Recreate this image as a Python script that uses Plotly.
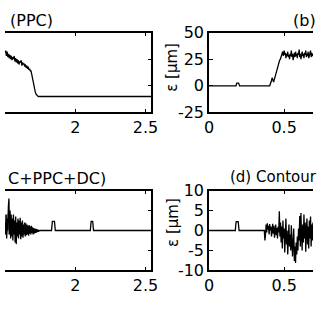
import numpy as np
import plotly.graph_objects as go

# ---------------- data ----------------
# Panel (a) "(PPC)", left panel, x visible ~1.5 .. 2.54
a_noise_x0, a_noise_dx = 1.500, 0.005
a_noise_y = [31, 33, 28, 32, 27, 30, 26, 29, 25, 28, 24, 27, 25, 28, 23, 26, 22, 25,
             21, 24, 20, 23, 22, 24, 19, 22, 20, 21, 18, 20, 17, 19, 16, 18, 15, 16,
             14, 14, 11]
a_drop_x = [1.695, 1.700, 1.705, 1.710, 1.715, 1.720, 1.725, 1.730, 1.735, 1.740, 2.541]
a_drop_y = [7, 3, 0, -3, -5.5, -7.5, -8.8, -9.5, -9.9, -10, -10]

# Panel (b), right panel, x visible 0 .. 0.69
b_base_x = [0.0, 0.180, 0.182, 0.185, 0.197, 0.200, 0.203, 0.404, 0.410, 0.415, 0.420,
            0.425, 0.430, 0.435, 0.440, 0.445, 0.450, 0.455, 0.460, 0.465, 0.470,
            0.475, 0.480, 0.485, 0.490, 0.495]
b_base_y = [0, 0, 1.6, 2.5, 2.5, 1.6, 0, 0, 2, 4.5, 7.5, 4, 3.5, 6, 9, 12, 15, 17,
            20, 22, 24, 25, 27, 30, 32, 28]
b_noise_x0, b_noise_dx = 0.500, 0.004
b_noise_y = [33, 29, 31, 26, 30, 28, 32, 27, 29, 25, 30, 28, 33, 27, 30, 24, 29, 31,
             27, 32, 28, 30, 26, 31, 29, 34, 27, 30, 25, 29, 32, 28, 30, 26, 31, 29,
             33, 27, 30, 28, 32, 26, 30, 29, 33, 27, 31, 28, 30]

# Panel (c) "(C+PPC+DC)", left panel
c_noise_x0, c_noise_dx = 1.500, 0.004
c_noise_y = [2, -1, 4, -2, 3, 0, 6, 8, -1, 5, -2, 4, -1.5, 3, -2.5, 4, -1, 2.5, -3,
             3.5, -3.4, 2, -1.5, 3, -2, 2.5, -1, 3.2, -2.2, 2, -1.5, 2.5, -1.8, 1.5,
             -1, 2, -1.5, 1.8, -1.2, 1.5, -1, 1.2, -1.3, 1.4, -0.8, 1, -1, 1.2, -0.6,
             0.8, -1, 0.6, -0.8, 0.5, -0.6, 0.4, -0.5, 0.3, -0.3, 0.2, -0.2, 0]
c_gray_x = [1.500, 1.504, 1.508, 1.512, 1.516, 1.520, 1.524, 1.528]
c_gray_y = [1.0, 4.0, -1.0, 3.5, -0.5, 4.2, -1.0, 2.0]
c_base_x = [1.748, 1.831, 1.834, 1.837, 1.852, 1.855, 1.858, 2.107, 2.110, 2.113,
            2.124, 2.127, 2.130, 2.541]
c_base_y = [0, 0, 1.6, 2.3, 2.3, 1.6, 0, 0, 1.6, 2.3, 2.3, 1.6, 0, 0]

# Panel (d) "Contour", right panel
d_base_x = [0.0, 0.175, 0.178, 0.181, 0.194, 0.197, 0.200, 0.368]
d_base_y = [0, 0, 1.5, 2.2, 2.2, 1.5, 0, 0]
d_noise_x0, d_noise_dx = 0.372, 0.004
d_noise_y = [-2.5, -1.0, 1.5, -0.5, 1.8, 0.2, 1.2, -1.0, 1.6, 0.0, 1.0, -1.5, 0.8,
             1.7, -0.8, 1.2, -1.8, 0.5, 1.5, -1.2, 0.6, -2.0, 1.0, -0.5, 4.8, -1.5,
             2.0, -3.0, 1.0, -4.5, 2.5, -2.0, 0.5, -5.5, -1.0, 3.0, -3.5, 0.0, -6.0,
             -2.0, 1.5, -4.0, -1.0, -5.0, 1.3, -3.0, -6.5, -2.5, 0.5, -7.6, -4.0,
             -8.1, -3.0, -6.0, -1.5, -5.0, 0.5, -2.5, 3.6, -4.0, 4.4, -1.0, -5.0, 1.5,
             -3.0, 4.0, -2.0, 2.0, -5.3, 0.0, 3.0, -3.5, 1.0, -4.5, 2.5, -2.0, 3.5,
             -4.0, 1.5, -2.5, 2.0]

left_xticks = [2, 2.5]
left_xticklabels = ["2", "2.5"]
right_xticks = [0, 0.5]
right_xticklabels = ["0", "0.5"]
top_yticks = [-25, 0, 25, 50]
top_yticklabels = ["-25", "0", "25", "50"]
bot_yticks = [-10, -5, 0, 5, 10]
bot_yticklabels = ["-10", "-5", "0", "5", "10"]

# visible parts of the panel titles
titles = ["(PPC)", "(b)", "C+PPC+DC)", "(d) Contour"]
ylabel = "ε [μm]"

# ---------------- figure ----------------
def seq(x0, dx, ys):
    return list(x0 + dx * np.arange(len(ys))), list(ys)

W = H = 320
fig = go.Figure()
line = dict(color="black", width=1.3)

ax, ay = seq(a_noise_x0, a_noise_dx, a_noise_y)
fig.add_trace(go.Scatter(x=ax + a_drop_x, y=ay + a_drop_y, mode="lines", line=line,
                         xaxis="x", yaxis="y"))
bx, by = seq(b_noise_x0, b_noise_dx, b_noise_y)
fig.add_trace(go.Scatter(x=b_base_x + bx, y=b_base_y + by, mode="lines", line=line,
                         xaxis="x2", yaxis="y2"))
fig.add_trace(go.Scatter(x=c_gray_x, y=c_gray_y, mode="lines",
                         line=dict(color="#9a9a9a", width=1.5), xaxis="x3", yaxis="y3"))
cx, cy = seq(c_noise_x0, c_noise_dx, c_noise_y)
fig.add_trace(go.Scatter(x=cx + c_base_x, y=cy + c_base_y, mode="lines", line=line,
                         xaxis="x3", yaxis="y3"))
dx_, dy_ = seq(d_noise_x0, d_noise_dx, d_noise_y)
fig.add_trace(go.Scatter(x=d_base_x + dx_, y=d_base_y + dy_, mode="lines", line=line,
                         xaxis="x4", yaxis="y4"))

tickfont = dict(family="DejaVu Sans", size=16, color="black")
common = dict(showgrid=False, zeroline=False, showline=True, linecolor="black",
              linewidth=1.6, ticks="inside", ticklen=4, tickwidth=1.2, tickcolor="black",
              tickfont=tickfont)

L_dom = [0, 152 / W]
R_dom = [212 / W, 1]
T_dom = [1 - 110 / H, 1 - 25 / H]
B_dom = [1 - 278 / H, 1 - 193 / H]
L_rng = [1.5, 1.5 + 152 / 146]
R_rng = [0, 108 / 156]

fig.update_layout(
    width=W, height=H, margin=dict(l=0, r=0, t=0, b=0),
    paper_bgcolor="white", plot_bgcolor="white", showlegend=False,
    xaxis=dict(domain=L_dom, range=L_rng, anchor="y", mirror="ticks",
               tickvals=left_xticks, ticktext=left_xticklabels, **common),
    yaxis=dict(domain=T_dom, range=[-25, 50], anchor="x", side="right", mirror=False,
               tickvals=top_yticks, showticklabels=False, **common),
    xaxis2=dict(domain=R_dom, range=R_rng, anchor="y2", mirror="ticks",
                tickvals=right_xticks, ticktext=right_xticklabels, **common),
    yaxis2=dict(domain=T_dom, range=[-25, 50], anchor="x2", mirror=False,
                tickvals=top_yticks, ticktext=top_yticklabels, **common),
    xaxis3=dict(domain=L_dom, range=L_rng, anchor="y3", mirror="ticks",
                tickvals=left_xticks, ticktext=left_xticklabels, **common),
    yaxis3=dict(domain=B_dom, range=[-10, 10], anchor="x3", side="right", mirror=False,
                tickvals=bot_yticks, showticklabels=False, **common),
    xaxis4=dict(domain=R_dom, range=R_rng, anchor="y4", mirror="ticks",
                tickvals=right_xticks, ticktext=right_xticklabels, **common),
    yaxis4=dict(domain=B_dom, range=[-10, 10], anchor="x4", mirror=False,
                tickvals=bot_yticks, ticktext=bot_yticklabels, **common),
)

tfont = dict(family="DejaVu Sans", size=16, color="black")
ann = [
    dict(text=titles[0], x=3 / W, y=1 - 12 / H, xanchor="left", yanchor="middle"),
    dict(text=titles[1], x=297 / W, y=1 - 12 / H, xanchor="left", yanchor="middle"),
    dict(text=titles[2], x=1 / W, y=1 - 180 / H, xanchor="left", yanchor="middle"),
    dict(text=titles[3], x=232 / W, y=1 - 179 / H, xanchor="left", yanchor="middle",
         font=dict(family="DejaVu Sans", size=15, color="black")),
    dict(text=ylabel, x=174 / W, y=1 - 62 / H, xanchor="center", yanchor="middle",
         textangle=-90, font=dict(family="DejaVu Sans", size=15, color="black")),
    dict(text=ylabel, x=174 / W, y=1 - 227 / H, xanchor="center", yanchor="middle",
         textangle=-90, font=dict(family="DejaVu Sans", size=15, color="black")),
]
for a in ann:
    a.setdefault("font", tfont)
    fig.add_annotation(xref="paper", yref="paper", showarrow=False, **a)

fig.write_html("out.html")
